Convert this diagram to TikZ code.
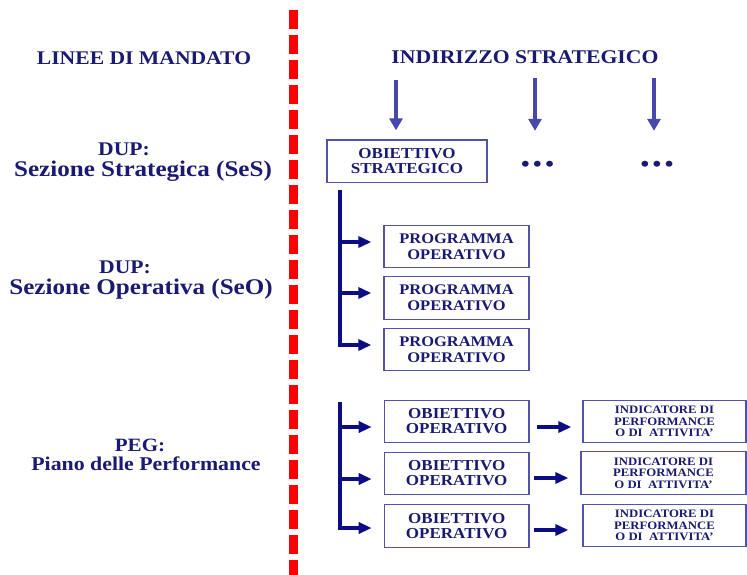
\documentclass[tikz,border=0pt]{standalone}
\usepackage{fontspec}
\setmainfont{Liberation Serif}[FakeStretch=1.12]
\usetikzlibrary{arrows.meta,calc}
\definecolor{navy}{HTML}{1A1A72}
\definecolor{boxblue}{HTML}{5252A8}
\definecolor{arrblue}{HTML}{4848AA}
\definecolor{branchblue}{HTML}{0C0C84}
\definecolor{divred}{HTML}{FF0000}
\newcommand{\fs}[2]{\fontsize{#1}{#2}\selectfont\bfseries}
\begin{document}
\begin{tikzpicture}[x=1pt,y=-1pt,
  lbl/.style={text=navy, anchor=base, inner sep=0pt},
  boxs/.style={draw=boxblue, line width=1.3pt, text=navy, align=center, inner sep=0pt, minimum height=42.5pt},
  dotsn/.style={text=navy, inner sep=0pt, minimum height=20pt, font=\fs{22}{22}},
  toparrow/.style={draw=arrblue, line width=4pt, -{Triangle[length=12pt,width=13pt]}},
  branch/.style={draw=branchblue, line width=4pt, -{Triangle[length=13pt,width=11pt]}},
  midarrow/.style={draw=branchblue, line width=4pt, -{Triangle[length=13pt,width=11pt]}},
  divider/.style={draw=divred, line width=9pt, dash pattern=on 19pt off 6pt}
]
\useasboundingbox[fill=white] (0,0) rectangle (747,574);

% divider
\draw[divider] (293,10) -- (293,580);

% left labels
\node[lbl, font=\fs{19.3}{20}] (linee) at (144,64) {LINEE DI MANDATO};
\node[lbl, font=\fs{19.3}{20}] (dup1) at (124,155) {DUP:};
\node[lbl, font=\fs{22.4}{22}] (ses) at (143,176) {Sezione Strategica (SeS)};
\node[lbl, font=\fs{19.3}{20}] (dup2) at (125,273) {DUP:};
\node[lbl, font=\fs{22.4}{22}] (seo) at (141,294) {Sezione Operativa (SeO)};
\node[lbl, font=\fs{18.8}{20}] (peg) at (140,451) {PEG:};
\node[lbl, font=\fs{19.5}{20}] (piano) at (146,470) {Piano delle Performance};

% title right
\node[lbl, font=\fs{19.4}{20}] (indir) at (525,63) {INDIRIZZO STRATEGICO};

% strategic box and dots
\node[boxs, minimum width=160pt, font=\fs{15.2}{14.5}] (os) at (407,161.25) {OBIETTIVO\\STRATEGICO};
\node[dotsn] (d1) at (537.5,166) {•\hspace{3.5pt}•\hspace{3.5pt}•};
\node[dotsn] (d2) at (657,166) {•\hspace{3.5pt}•\hspace{3.5pt}•};

\coordinate (a1) at (396,80);
\coordinate (a2) at (535,78);
\coordinate (a3) at (654,78);
\draw[toparrow, shorten >=9pt] (a1) -- (a1 |- os.north);
\draw[toparrow, shorten >=25pt] (a2) -- (a2 |- d1.north);
\draw[toparrow, shorten >=25pt] (a3) -- (a3 |- d2.north);

% programmi
\node[boxs, minimum width=145pt, font=\fs{14.7}{16}] (p1) at (456.5,246.5) {PROGRAMMA\\OPERATIVO};
\node[boxs, minimum width=145pt, font=\fs{14.7}{16}] (p2) at (456.5,298) {PROGRAMMA\\OPERATIVO};
\node[boxs, minimum width=145pt, font=\fs{14.7}{16}] (p3) at (456.5,349.5) {PROGRAMMA\\OPERATIVO};

\coordinate (b1) at (340,190);
\coordinate (e1) at ($(p1.west)+(0,-4.5)$);
\coordinate (e2) at ($(p2.west)+(0,-5)$);
\coordinate (e3) at ($(p3.west)+(0,-4.5)$);
\draw[branch, shorten >=12pt] (b1) |- (e3);
\draw[branch, shorten >=12pt] (b1 |- e1) -- (e1);
\draw[branch, shorten >=12pt] (b1 |- e2) -- (e2);

% obiettivi operativi
\node[boxs, minimum width=144.7pt, font=\fs{15.2}{15}] (o1) at (456.7,421.5) {OBIETTIVO\\OPERATIVO};
\node[boxs, minimum width=144.7pt, font=\fs{15.2}{15}] (o2) at (456.7,473.5) {OBIETTIVO\\OPERATIVO};
\node[boxs, minimum width=144.7pt, font=\fs{15.2}{15}] (o3) at (456.7,526) {OBIETTIVO\\OPERATIVO};

\coordinate (b2) at (340,402);
\coordinate (f1) at ($(o1.west)+(0,5.5)$);
\coordinate (f2) at ($(o2.west)+(0,5.5)$);
\coordinate (f3) at ($(o3.west)+(0,2)$);
\draw[branch, shorten >=12pt] (b2) |- (f3);
\draw[branch, shorten >=12pt] (b2 |- f1) -- (f1);
\draw[branch, shorten >=12pt] (b2 |- f2) -- (f2);

% indicatori
\node[boxs, minimum width=163pt, font=\fs{11.4}{11.5}] (i1) at (664.5,421.5) {INDICATORE DI\\PERFORMANCE\\O DI\ \ ATTIVITA’};
\node[boxs, minimum width=165pt, font=\fs{11.4}{11.5}] (i2) at (663.5,473) {INDICATORE DI\\PERFORMANCE\\O DI\ \ ATTIVITA’};
\node[boxs, minimum width=163pt, font=\fs{11.4}{11.5}] (i3) at (664.5,525.5) {INDICATORE DI\\PERFORMANCE\\O DI\ \ ATTIVITA’};

\coordinate (m1) at ($(o1.east)+(7,5.5)$);
\coordinate (m2) at ($(o2.east)+(4,4.5)$);
\coordinate (m3) at ($(o3.east)+(4,4)$);
\draw[midarrow, shorten >=11pt] (m1) -- (m1 -| i1.west);
\draw[midarrow, shorten >=12pt] (m2) -- (m2 -| i2.west);
\draw[midarrow, shorten >=14pt] (m3) -- (m3 -| i3.west);
\end{tikzpicture}
\end{document}
